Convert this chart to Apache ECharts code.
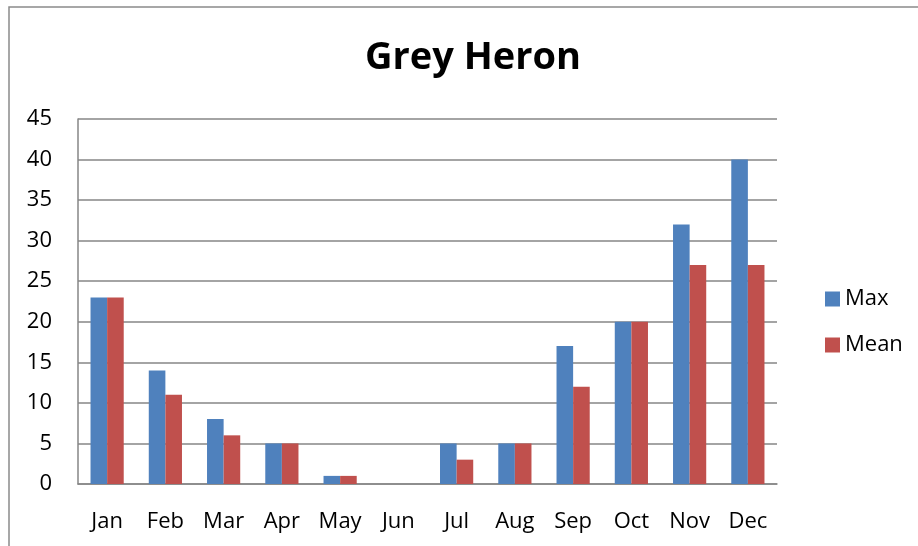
<!DOCTYPE html>
<html>
<head>
<meta charset="utf-8">
<script src="https://cdn.jsdelivr.net/npm/echarts@6/dist/echarts.min.js"></script>
<style>
  html, body { margin: 0; padding: 0; background: #fff; }
  #chart { width: 918px; height: 546px; }
</style>
</head>
<body>
<div id="chart"></div>
<script>
const months = ['Jan', 'Feb', 'Mar', 'Apr', 'May', 'Jun', 'Jul', 'Aug', 'Sep', 'Oct', 'Nov', 'Dec'];
const maxValues = [23, 14, 8, 5, 1, 0, 5, 5, 17, 20, 32, 40];
const meanValues = [23, 11, 6, 5, 1, 0, 3, 5, 12, 20, 27, 27];

const font = '"Open Sans", "Liberation Sans", sans-serif';
const chart = echarts.init(document.getElementById('chart'));

const option = {
  animation: false,
  textStyle: { fontFamily: font },
  graphic: [{
    type: 'rect',
    shape: { x: 9, y: 7, width: 1000, height: 600 },
    style: { fill: 'none', stroke: '#8a8a8a', lineWidth: 1.5 },
    silent: true
  }],
  title: {
    text: 'Grey Heron',
    left: 468,
    top: 34,
    textAlign: 'center',
    textStyle: { fontSize: 38, fontWeight: 'bold', color: '#000', fontFamily: font }
  },
  legend: {
    orient: 'vertical',
    left: 820,
    top: 283,
    itemWidth: 15,
    itemHeight: 15,
    itemGap: 24,
    icon: 'rect',
    textStyle: { fontSize: 22, color: '#000', fontFamily: font },
    data: ['Max', 'Mean']
  },
  grid: { left: 78, top: 119, width: 699, height: 365 },
  xAxis: {
    type: 'category',
    data: months,
    axisTick: { show: false },
    axisLine: { lineStyle: { color: '#868686', width: 1.5 } },
    axisLabel: { fontSize: 22, color: '#000', margin: 27, fontFamily: font }
  },
  yAxis: {
    type: 'value',
    min: 0,
    max: 45,
    interval: 5,
    axisLine: { show: true, lineStyle: { color: '#868686', width: 1.5 } },
    axisTick: { show: false },
    splitLine: { lineStyle: { color: '#868686', width: 1.5 } },
    axisLabel: { fontSize: 22, color: '#000', margin: 26, fontFamily: font }
  },
  series: [
    {
      name: 'Max',
      type: 'bar',
      data: maxValues,
      barGap: '0%',
      barCategoryGap: '43%',
      itemStyle: { color: '#4F81BD' }
    },
    {
      name: 'Mean',
      type: 'bar',
      data: meanValues,
      itemStyle: { color: '#C0504D' }
    }
  ]
};

chart.setOption(option);
</script>
</body>
</html>
